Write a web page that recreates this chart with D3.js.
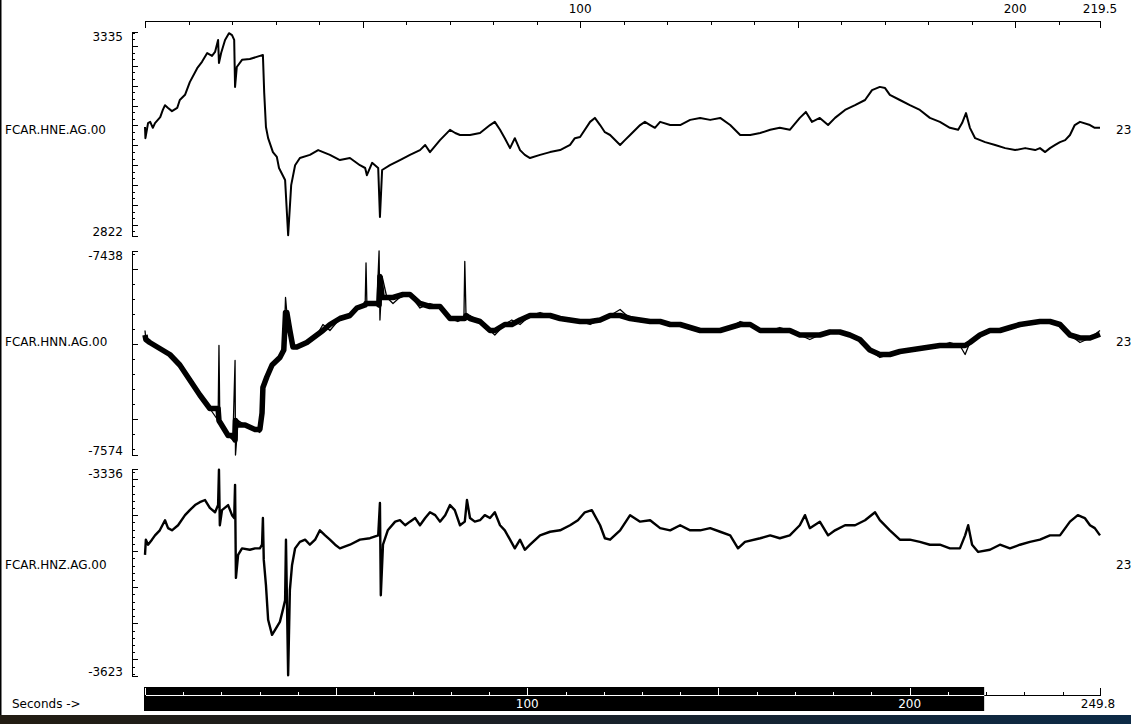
<!DOCTYPE html>
<html>
<head>
    <title>FCAR traces</title>
    <script src="https://d3js.org/d3.v7.min.js"></script>
    <style>
        body { margin: 0; padding: 0; background: #fff; }
        svg { display: block; }
        text { font-family: "DejaVu Sans", sans-serif; font-size: 12px; fill: #000; }
        .axis path, .axis line { stroke: #000; shape-rendering: crispEdges; }
        .axis text { display: none; }
        .trace { fill: none; stroke: #000; stroke-linejoin: round; }
    </style>
</head>
<body>
    <div id="chart"></div>

    <script>
        // station / channel names
        const stations = ["FCAR.HNE.AG.00", "FCAR.HNN.AG.00", "FCAR.HNZ.AG.00"];
        const sideLabels = ["23", "23", "23"];

        // amplitude range of each trace (max, min) as printed on the left
        const ampMax = [3335, -7438, -3336];
        const ampMin = [2822, -7574, -3623];

        // time window (seconds)
        const windowEnd = 219.5;
        const totalEnd = 249.8;
        const topTickLabels = [100, 200, 219.5];
        const bottomTickLabels = [100, 200, 249.8];

        // HNE trace
        const heTimes = [
            0, 0.1, 0.7, 1.2, 1.8, 2.3, 3.5, 4.1, 4.6, 5.3,
            6.2, 7.4, 8.0, 9.2, 10.3, 12.0, 13.1, 14.3, 15.4, 16.1,
            16.8, 17.0, 17.5, 18.4, 19.3, 20.0, 20.5, 20.7, 21.1, 22.3,
            24.1, 26.4, 27.1, 27.4, 27.8, 28.3, 29.4, 30.3, 30.8, 32.2,
            32.9, 33.6, 34.5, 35.6, 37.9, 39.8, 42.5, 44.8, 47.1, 49.4,
            50.6, 51.0, 52.2, 53.6, 54.0, 54.5, 56.3, 58.6, 60.9, 63.2,
            64.4, 65.5, 67.8, 70.1, 71.3, 72.4, 74.7, 77.0, 79.3, 80.4,
            81.6, 82.7, 83.9, 85.0, 86.2, 87.3, 88.5, 90.8, 93.1, 95.4,
            97.7, 98.8, 100.0, 102.3, 103.4, 104.6, 105.7, 106.9, 109.2, 110.3,
            111.5, 113.8, 114.9, 116.1, 117.2, 118.4, 120.7, 123.0, 125.3, 127.6,
            129.9, 132.2, 134.5, 136.8, 139.1, 141.4, 143.7, 145.9, 148.2, 150.5,
            151.9, 153.3, 155.1, 157.0, 158.6, 160.9, 163.2, 165.5, 167.1, 168.9,
            170.1, 171.2, 173.5, 175.8, 178.1, 180.4, 182.7, 185.0, 186.9, 187.8,
            188.7, 189.6, 190.8, 193.1, 195.4, 197.7, 200.0, 202.3, 204.6, 205.7,
            206.9, 208.0, 209.2, 210.3, 211.5, 212.6, 213.7, 214.9, 217.2, 218.3,
            219.5
        ];
        const heValues = [
            3096, 3068, 3106, 3109, 3094, 3106, 3121, 3139, 3151, 3144,
            3136, 3144, 3164, 3177, 3209, 3244, 3260, 3282, 3275, 3285,
            3315, 3257, 3282, 3315, 3332, 3327, 3315, 3197, 3247, 3265,
            3267, 3275, 3277, 3182, 3096, 3068, 3033, 3021, 2993, 2963,
            2824, 2950, 3000, 3018, 3026, 3038, 3026, 3013, 3018, 3000,
            2993, 2975, 3006, 2993, 2870, 2988, 3000, 3013, 3026, 3038,
            3051, 3033, 3063, 3089, 3081, 3076, 3076, 3081, 3101, 3109,
            3089, 3068, 3043, 3068, 3038, 3026, 3018, 3026, 3033, 3038,
            3051, 3068, 3071, 3109, 3119, 3101, 3083, 3076, 3051, 3063,
            3076, 3101, 3109, 3101, 3094, 3109, 3101, 3101, 3114, 3119,
            3114, 3119, 3101, 3076, 3076, 3081, 3089, 3094, 3089, 3119,
            3134, 3109, 3119, 3101, 3119, 3139, 3151, 3164, 3189, 3197,
            3194, 3177, 3164, 3151, 3139, 3119, 3109, 3094, 3089, 3106,
            3131, 3094, 3068, 3058, 3051, 3043, 3038, 3043, 3038, 3043,
            3033, 3043, 3051, 3058, 3063, 3076, 3101, 3109, 3101, 3094,
            3094
        ];

        // HNN trace
        const hnTimes = [
            0, 0.2, 1.1, 3.4, 5.7, 8.0, 10.3, 12.6, 14.9, 16.8,
            17.0, 17.2, 19.1, 20.2, 20.7, 20.8, 21.4, 23.0, 25.3, 26.4,
            26.9, 27.1, 28.0, 29.2, 31.0, 31.9, 32.3, 32.6, 33.3, 34.0,
            34.9, 37.2, 39.5, 40.9, 42.5, 44.8, 47.1, 48.7, 50.6, 50.8,
            51.0, 53.3, 53.8, 54.0, 54.5, 55.6, 57.0, 59.3, 60.9, 63.2,
            65.5, 67.8, 70.1, 71.9, 73.3, 73.5, 73.8, 74.7, 77.0, 79.3,
            80.4, 82.7, 84.3, 86.2, 88.5, 90.8, 93.1, 95.4, 97.7, 100.0,
            102.3, 104.6, 106.9, 109.2, 111.5, 113.8, 116.1, 118.4, 120.7, 123.0,
            125.3, 127.6, 129.9, 132.2, 134.5, 136.8, 139.1, 141.4, 143.7, 145.9,
            148.2, 150.5, 152.8, 155.1, 157.4, 159.7, 162.0, 164.3, 166.6, 168.9,
            171.2, 173.5, 175.8, 178.1, 180.4, 182.7, 185.0, 187.3, 188.5, 189.6,
            191.9, 194.2, 196.5, 198.8, 201.1, 203.4, 205.7, 208.0, 210.3, 212.6,
            214.9, 217.2, 219.5
        ];
        const hnValues = [
            -7491, -7497, -7499, -7503, -7507, -7514, -7524, -7534, -7543, -7551,
            -7501, -7552, -7561, -7564, -7511, -7574, -7551, -7554, -7557, -7559,
            -7546, -7529, -7522, -7514, -7509, -7504, -7469, -7479, -7491, -7502,
            -7503, -7499, -7494, -7487, -7491, -7483, -7481, -7476, -7474, -7446,
            -7473, -7474, -7438, -7484, -7455, -7469, -7473, -7467, -7467, -7476,
            -7473, -7475, -7483, -7485, -7483, -7445, -7483, -7481, -7485, -7491,
            -7494, -7487, -7484, -7487, -7481, -7479, -7481, -7484, -7483, -7485,
            -7487, -7484, -7481, -7477, -7483, -7485, -7484, -7485, -7487, -7487,
            -7489, -7491, -7492, -7491, -7489, -7485, -7487, -7491, -7491, -7489,
            -7491, -7494, -7497, -7494, -7491, -7492, -7494, -7497, -7504, -7509,
            -7507, -7505, -7504, -7503, -7502, -7501, -7499, -7501, -7507, -7499,
            -7494, -7491, -7491, -7489, -7487, -7486, -7485, -7484, -7487, -7494,
            -7499, -7496, -7491
        ];

        // HNZ trace
        const hzTimes = [
            0, 0.2, 0.7, 1.6, 2.3, 3.4, 4.6, 5.3, 6.2, 7.6,
            9.2, 10.3, 11.5, 12.6, 13.8, 14.9, 16.1, 16.8, 17.0, 17.2,
            17.7, 19.1, 20.0, 20.5, 20.7, 20.9, 21.4, 22.3, 24.1, 25.3,
            26.4, 26.9, 27.1, 27.3, 27.8, 28.3, 29.2, 29.9, 31.0, 31.7,
            32.2, 32.4, 32.9, 33.3, 33.8, 34.5, 35.6, 36.8, 37.9, 39.1,
            40.2, 41.4, 42.5, 43.7, 44.8, 47.1, 49.4, 51.7, 53.6, 54.0,
            54.2, 54.7, 55.8, 57.5, 58.6, 59.8, 60.9, 62.1, 63.2, 64.4,
            65.5, 66.7, 67.8, 69.0, 70.1, 71.2, 72.4, 73.5, 74.0, 74.7,
            75.8, 77.0, 78.1, 79.3, 80.4, 81.6, 82.7, 83.9, 85.0, 86.2,
            87.3, 88.5, 90.8, 93.1, 95.4, 97.7, 99.5, 101.1, 102.7, 104.6,
            105.7, 106.9, 109.2, 111.5, 113.8, 116.1, 118.4, 120.7, 123.0, 125.3,
            127.6, 129.9, 132.2, 134.5, 136.3, 137.9, 141.4, 143.7, 145.9, 148.2,
            150.5, 151.7, 152.8, 155.1, 157.0, 158.6, 160.9, 163.2, 165.5, 167.8,
            168.9, 171.2, 173.5, 175.8, 178.1, 180.4, 182.7, 185.0, 187.3, 188.5,
            189.2, 190.1, 191.5, 194.2, 196.5, 198.8, 201.1, 203.4, 205.7, 208.0,
            210.3, 212.6, 214.4, 216.0, 217.2, 218.3, 219.5
        ];
        const hzValues = [
            -3455, -3434, -3441, -3434, -3428, -3421, -3407, -3418, -3421, -3414,
            -3400, -3393, -3386, -3382, -3379, -3390, -3396, -3386, -3337, -3414,
            -3393, -3386, -3400, -3404, -3358, -3487, -3455, -3446, -3448, -3446,
            -3446, -3441, -3404, -3462, -3497, -3545, -3566, -3559, -3548, -3531,
            -3518, -3434, -3622, -3504, -3469, -3446, -3437, -3434, -3441, -3434,
            -3421, -3428, -3434, -3441, -3446, -3441, -3434, -3432, -3428, -3383,
            -3511, -3441, -3421, -3409, -3407, -3414, -3409, -3404, -3414, -3404,
            -3396, -3400, -3409, -3400, -3386, -3393, -3414, -3409, -3379, -3404,
            -3409, -3407, -3400, -3404, -3396, -3414, -3421, -3434, -3446, -3434,
            -3448, -3441, -3428, -3423, -3421, -3414, -3407, -3396, -3393, -3414,
            -3432, -3434, -3421, -3400, -3409, -3407, -3418, -3421, -3414, -3421,
            -3421, -3418, -3423, -3428, -3446, -3437, -3432, -3428, -3432, -3428,
            -3414, -3400, -3418, -3409, -3428, -3421, -3414, -3414, -3407, -3396,
            -3407, -3421, -3434, -3434, -3437, -3441, -3441, -3446, -3446, -3428,
            -3414, -3441, -3451, -3448, -3441, -3446, -3441, -3437, -3434, -3428,
            -3428, -3409, -3400, -3404, -3414, -3418, -3428
        ];

        const traceTimes = [heTimes, hnTimes, hzTimes];
        const traceValues = [heValues, hnValues, hzValues];

        // layout
        const width = 1131, height = 724;
        const plotLeft = 145, plotRight = 1100;
        const axisX = 131;
        const panelTop = [32, 251, 469];
        const panelBottom = [236, 455, 676];
        const labelY = [130, 342, 565];
        const lineW = [2, 1.3, 2.4];    // stroke of the trace itself
        const bodyW = [0, 5.5, 0];      // extra wide band for the noisy HNN trace
        const minorStep = [50 / 3, 10, 10];
        const frameBottom = 715;

        const svg = d3.select("#chart")
            .append("svg")
            .attr("width", width)
            .attr("height", height);

        svg.append("rect").attr("width", width).attr("height", height).attr("fill", "#fff");

        // desktop strip below the window
        const grad = svg.append("defs").append("linearGradient").attr("id", "desk");
        grad.append("stop").attr("offset", "0%").attr("stop-color", "#221c12");
        grad.append("stop").attr("offset", "45%").attr("stop-color", "#1b2026");
        grad.append("stop").attr("offset", "100%").attr("stop-color", "#0c2a46");
        svg.append("rect")
            .attr("x", 0).attr("y", frameBottom)
            .attr("width", width).attr("height", height - frameBottom)
            .attr("fill", "url(#desk)");
        svg.append("rect")
            .attr("x", 0).attr("y", 0)
            .attr("width", 1.5).attr("height", frameBottom)
            .attr("fill", "#000");

        const tx = d3.scaleLinear().domain([0, windowEnd]).range([plotLeft, plotRight]);
        const bx = d3.scaleLinear().domain([0, totalEnd]).range([plotLeft, plotRight]);

        // top time axis
        const topG = svg.append("g").attr("class", "axis").attr("transform", "translate(0,20.5)");
        topG.call(d3.axisBottom(tx).tickValues(d3.range(0, windowEnd, 10)).tickSize(4).tickSizeOuter(0));
        topG.append("g").call(d3.axisBottom(tx).tickValues([0, 50, 100, 150, 200, windowEnd]).tickSize(7).tickSizeOuter(0));
        svg.selectAll(".toplabel")
            .data(topTickLabels)
            .enter().append("text")
            .attr("x", d => tx(d))
            .attr("y", 13)
            .attr("text-anchor", "middle")
            .text(d => d);

        // 3-point median, so the wide band skips single-sample spikes
        function median3(vals) {
            return vals.map((v, k) => d3.median(vals.slice(Math.max(0, k - 1), k + 2)));
        }

        // traces
        stations.forEach((name, i) => {
            const y = d3.scaleLinear()
                .domain([ampMin[i], ampMax[i]])
                .range([panelBottom[i], panelTop[i]]);

            const g = svg.append("g").attr("class", "axis").attr("transform", `translate(${axisX + 0.5},0)`);
            const majors = d3.range(Math.ceil(ampMin[i] / 50) * 50, ampMax[i], 50);
            const minors = d3.range(Math.ceil(ampMin[i] / minorStep[i]) * minorStep[i], ampMax[i], minorStep[i]);
            g.call(d3.axisRight(y).tickValues(minors).tickSize(3).tickSizeOuter(6));
            g.append("g").call(d3.axisRight(y).tickValues(majors.concat([ampMin[i], ampMax[i]])).tickSize(6).tickSizeOuter(6));

            svg.append("text")
                .attr("x", 123).attr("y", panelTop[i] + 9)
                .attr("text-anchor", "end")
                .text(ampMax[i]);
            svg.append("text")
                .attr("x", 123).attr("y", panelBottom[i])
                .attr("text-anchor", "end")
                .text(ampMin[i]);

            svg.append("text")
                .attr("x", 5).attr("y", labelY[i])
                .attr("dy", "0.35em")
                .text(name);
            svg.append("text")
                .attr("x", 1116).attr("y", labelY[i])
                .attr("dy", "0.35em")
                .text(sideLabels[i]);

            const line = d3.line()
                .x(d => tx(d[0]))
                .y(d => y(d[1]));

            if (bodyW[i] > 0) {
                svg.append("path")
                    .datum(d3.zip(traceTimes[i], median3(traceValues[i])))
                    .attr("class", "trace")
                    .attr("stroke-width", bodyW[i])
                    .attr("d", line);
            }

            svg.append("path")
                .datum(d3.zip(traceTimes[i], traceValues[i]))
                .attr("class", "trace")
                .attr("stroke-width", lineW[i])
                .attr("d", line);
        });

        // bottom seconds axis
        const barTop = 687, barBottom = 711, axisY = 694.5;
        const minorTicks = d3.range(0, totalEnd, 10);
        const majorTicks = [0, 50, 100, 150, 200, totalEnd];

        function bottomAxis(sel, color) {
            sel.attr("transform", `translate(0,${axisY})`);
            sel.call(d3.axisTop(bx).tickValues(minorTicks).tickSize(3).tickSizeOuter(0));
            sel.append("g").call(d3.axisTop(bx).tickValues(majorTicks).tickSize(7).tickSizeOuter(0));
            sel.selectAll("path, line").style("stroke", color);
        }

        svg.append("g").attr("class", "axis").call(g => bottomAxis(g, "#000"));

        svg.append("rect")
            .attr("x", bx(0) - 1).attr("y", barTop)
            .attr("width", bx(windowEnd) - bx(0) + 1).attr("height", barBottom - barTop)
            .attr("fill", "#000");

        svg.append("clipPath").attr("id", "barclip")
            .append("rect")
            .attr("x", bx(0) - 1).attr("y", barTop)
            .attr("width", bx(windowEnd) - bx(0) + 1).attr("height", barBottom - barTop);

        svg.append("g").attr("clip-path", "url(#barclip)")
            .append("g").attr("class", "axis").call(g => bottomAxis(g, "#fff"));

        svg.selectAll(".botlabel")
            .data(bottomTickLabels)
            .enter().append("text")
            .attr("x", d => bx(d) - (d === totalEnd ? 2 : 0))
            .attr("y", 708)
            .attr("text-anchor", "middle")
            .style("fill", d => d <= windowEnd ? "#fff" : "#000")
            .text(d => d);

        svg.append("text")
            .attr("x", 12).attr("y", 708)
            .text("Seconds ->");
    </script>
</body>
</html>
